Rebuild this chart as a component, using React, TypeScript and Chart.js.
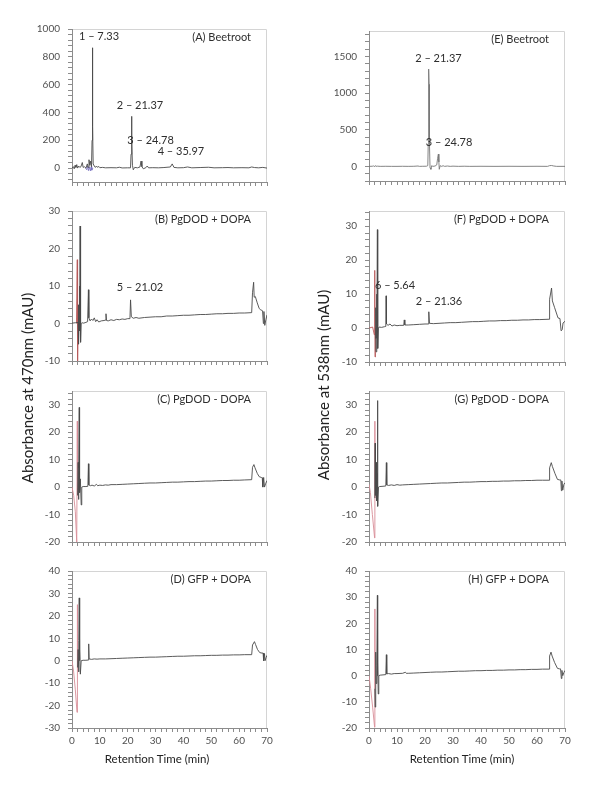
import React, { useEffect, useRef } from "react";
import { Chart, registerables } from "chart.js";

Chart.register(...registerables);

const FONT = "Lato, 'Open Sans', sans-serif";
const AXIS_COLOR = "#8c8c8c";
const BOX_COLOR = "#d4d4d4";
const TICK_TEXT = "#505050";
const LINE_DARK = "#4a4a4a";

type Pt = [number, number];

// ---------- tick labels ----------
const timeTicks = [0, 10, 20, 30, 40, 50, 60, 70];
const yTicksA = [0, 200, 400, 600, 800, 1000];
const yTicksB = [-10, 0, 10, 20, 30];
const yTicksC = [-20, -10, 0, 10, 20, 30];
const yTicksD = [-30, -20, -10, 0, 10, 20, 30, 40];
const yTicksE = [0, 500, 1000, 1500];
const yTicksF = [-10, 0, 10, 20, 30];
const yTicksG = [-20, -10, 0, 10, 20, 30];
const yTicksH = [-20, -10, 0, 10, 20, 30, 40];

// ---------- traces: [retention time (min), absorbance (mAU)] ----------
// (A) Beetroot, 470 nm
const traceA: Pt[] = [
  [0, 0], [0.5, 10], [0.8, -5], [1.1, 20], [1.4, 5], [1.7, 25], [2.0, 0], [2.4, 15], [2.8, 5],
  [3.2, 10], [3.7, 40], [4.0, 5], [4.5, 10], [5.0, 0], [5.5, 30], [5.8, 5], [6.1, 60], [6.4, 20],
  [6.7, 50], [7.0, 10], [7.2, 200], [7.33, 865], [7.45, 300], [7.6, 30], [8.0, 15], [8.4, 5],
  [8.8, 15], [9.2, 5], [9.6, 12], [10.0, 3], [11, 5], [12, 2], [14, 3], [16, 2], [17, 6], [18, 1],
  [20, 2], [21.0, 2], [21.2, 100], [21.37, 372], [21.5, 200], [21.7, 20], [22.0, -12], [22.5, 5],
  [23.5, 2], [24.4, 8], [24.78, 50], [25.1, 10], [25.6, -5], [26.5, 3], [27.0, 15], [27.5, 2],
  [29, 3], [31, 2], [33, 4], [35.3, 8], [35.97, 30], [36.6, 5], [38, 2], [40, 3], [41.5, 8],
  [43, 2], [46, 4], [49, 6], [51, 2], [54, 3], [56, 4], [58, 2], [61, 3], [63.5, 2], [64.5, 8],
  [65.5, 4], [67, 2], [68.5, 5], [70, 0],
];
const overlayA: Pt[] = [
  [4.8, 0], [5.3, -12], [5.6, 15], [5.9, -18], [6.3, 8], [6.6, -20], [6.9, 10], [7.1, -15], [7.5, 0],
];

// (B) PgDOD + DOPA, 470 nm
const traceB: Pt[] = [
  [0, 0.1], [1.2, 0.2], [2.2, 0.3], [2.3, 5], [2.4, -5.5], [2.55, 0], [2.7, 10], [2.8, -2], [2.9, 26],
  [3.0, 2], [3.15, -5], [3.3, 0], [3.6, 0.2], [4.2, 0.1], [5.0, 0.3], [5.6, 0.5], [5.9, 9], [6.05, 1.5],
  [6.5, 0.7], [7.0, 1.2], [7.5, 0.8], [8.0, 1.5], [8.5, 0.5], [9.0, 1.0], [9.6, 0.4], [10.5, 0.7],
  [11.5, 0.8], [12.0, 0.9], [12.2, 2.6], [12.4, 0.8], [13, 0.7], [14, 1.0], [15, 0.8], [16, 1.1],
  [17, 1.0], [18, 1.2], [19, 1.1], [20, 1.3], [20.8, 1.3], [21.02, 6.3], [21.3, 1.8], [22, 1.4],
  [23, 1.6], [24, 1.4], [26, 1.6], [28, 1.7], [30, 1.8], [32, 1.8], [34, 2.0], [36, 2.0], [38, 2.1],
  [40, 2.2], [42, 2.2], [44, 2.3], [46, 2.4], [48, 2.4], [50, 2.5], [52, 2.6], [54, 2.6], [56, 2.7],
  [58, 2.7], [60, 2.8], [62, 2.8], [64.5, 2.9], [64.8, 8.2], [65.2, 11], [65.4, 7], [65.8, 7.2],
  [66.5, 5.5], [67.2, 4], [67.8, 3.6], [68.2, 3.5], [68.4, 3.4], [68.7, 0], [68.9, 3.2], [69.2, -0.5],
  [69.6, 1], [70, 2.3],
];
const overlayB: Pt[] = [[1.6, 0], [1.9, 17], [2.0, -10], [2.2, 0.3]];

// (C) PgDOD - DOPA, 470 nm
const traceC: Pt[] = [
  [2.0, -3], [2.2, 9], [2.3, -4.5], [2.5, 7], [2.6, 29], [2.65, 0], [2.7, 14], [2.8, -2], [3.0, 3],
  [3.3, -6.5], [3.5, 0], [4, 0.2], [5, 0.2], [5.7, 0.3], [5.9, 8.5], [6.05, 0.8], [6.6, 0.5],
  [7.2, 0.7], [8, 0.4], [8.8, 1.0], [9.2, 0.5], [10, 0.7], [11, 0.6], [12, 0.8], [13, 0.7], [14, 0.9],
  [16, 0.9], [18, 1.0], [20, 1.1], [22, 1.2], [24, 1.3], [26, 1.4], [28, 1.5], [30, 1.5], [32, 1.6],
  [34, 1.7], [36, 1.8], [38, 1.8], [40, 1.9], [42, 2.0], [44, 2.0], [46, 2.1], [48, 2.2], [50, 2.2],
  [52, 2.3], [54, 2.4], [56, 2.4], [58, 2.5], [60, 2.5], [62, 2.6], [64.5, 2.7], [64.8, 7.2],
  [65.3, 8.2], [65.7, 7], [66.5, 5], [67.2, 3.8], [68, 3.5], [68.3, 3.4], [68.5, 0], [68.8, 3.5],
  [69.1, 0], [69.5, 1.2], [70, 2.4],
];
const overlayC: Pt[] = [[0, 0], [0.6, -3], [1.2, -9], [1.7, -20], [1.9, 24], [2.0, -3]];

// (D) GFP + DOPA, 470 nm
const traceD: Pt[] = [
  [2.0, -3], [2.2, 5], [2.35, -5], [2.5, 9], [2.6, 28], [2.7, 0], [2.8, 5], [3.0, -6], [3.3, 0],
  [4, 0.2], [5, 0.2], [5.8, 0.3], [6.0, 7.5], [6.15, 0.8], [7, 0.6], [8, 0.8], [9, 0.7], [10, 0.8],
  [12, 0.8], [14, 0.9], [16, 1.0], [18, 1.1], [20, 1.2], [22, 1.3], [24, 1.4], [26, 1.5], [28, 1.6],
  [30, 1.6], [32, 1.7], [34, 1.8], [36, 1.9], [38, 2.0], [40, 2.0], [42, 2.1], [44, 2.2], [46, 2.2],
  [48, 2.3], [50, 2.4], [52, 2.4], [54, 2.5], [56, 2.5], [58, 2.6], [60, 2.6], [62, 2.7], [64.5, 2.7],
  [64.8, 7], [65.5, 8.5], [65.9, 7.2], [66.6, 5], [67.4, 3.6], [68.2, 3.4], [68.6, 3.4], [68.8, 0],
  [69.1, 3.2], [69.3, 0], [69.7, 1.5], [70, 2.4],
];
const overlayD: Pt[] = [[0, 0], [0.6, -5], [1.2, -13], [1.8, -23], [1.9, 25], [2.0, -3]];

// (E) Beetroot, 538 nm
const traceE: Pt[] = [
  [0, 0], [1.3, 2], [1.6, 8], [1.9, -5], [2.2, 10], [2.5, 0], [3, 3], [4, 0], [6, 1], [8, 0], [10, 0],
  [12, 1], [14, 0], [16, 1], [17.5, 5], [18, 0], [19, 1], [20.5, 2], [21.0, 10], [21.15, 300],
  [21.25, 1150], [21.37, 1330], [21.47, 1120], [21.6, 300], [21.8, -20], [22.1, -40], [22.4, 10],
  [22.8, 0], [23.6, 5], [24.2, 20], [24.5, 110], [24.78, 168], [24.95, 60], [25.1, -40], [25.4, 10],
  [25.8, 0], [26.5, 8], [27, 0], [28, 5], [29, 0], [30, 3], [32, 0], [34, 2], [36, 0], [40, 1],
  [45, 0], [50, 1], [55, 0], [60, 1], [63.8, 0], [64.5, 10], [65.2, 12], [66, 5], [67, 0], [70, 0],
];

// (F) PgDOD + DOPA, 538 nm
const traceF: Pt[] = [
  [2.2, -3], [2.4, 6], [2.5, -7], [2.7, 10], [2.85, -3], [3.0, 29], [3.05, 0], [3.1, 14], [3.2, -6],
  [3.35, 0], [3.6, 0.3], [4.5, 0.2], [5.5, 0.4], [6.0, 0.5], [6.1, 9.5], [6.25, 1.2], [6.8, 0.8],
  [7.5, 1.2], [8.2, 0.6], [9, 0.9], [10, 0.7], [11, 0.8], [12.4, 0.8], [12.6, 2.4], [12.8, 0.9],
  [14, 0.9], [16, 1.0], [18, 1.1], [20, 1.2], [21.2, 1.2], [21.36, 4.8], [21.6, 1.4], [23, 1.3],
  [25, 1.4], [27, 1.5], [29, 1.6], [31, 1.6], [33, 1.7], [35, 1.8], [37, 1.9], [39, 1.9], [41, 2.0],
  [43, 2.1], [45, 2.1], [47, 2.2], [49, 2.2], [51, 2.3], [53, 2.3], [55, 2.4], [57, 2.4], [59, 2.5],
  [61, 2.5], [64.3, 2.6], [64.5, 8.5], [65.2, 11.8], [65.5, 8], [66.3, 6], [67.5, 3], [68.2, 2.8],
  [68.6, -0.8], [69.0, -0.5], [69.3, 1.5], [70, 2],
];
const overlayF: Pt[] = [[0, 0], [1.3, 0.3], [1.9, -2], [2.05, 17], [2.15, -8.5], [2.3, 0]];

// (G) PgDOD - DOPA, 538 nm
const traceG: Pt[] = [
  [2.1, -4], [2.2, 16], [2.3, -3], [2.5, 9], [2.7, -5], [2.9, 5], [3.0, 31.5], [3.05, 0], [3.1, 9],
  [3.2, -7], [3.4, 0], [3.8, 0.2], [5, 0.3], [6.0, 0.4], [6.2, 8.9], [6.35, 0.8], [7, 0.6], [8, 0.8],
  [9, 0.6], [10, 0.9], [11, 0.7], [12, 0.8], [14, 0.9], [16, 1.0], [18, 1.1], [20, 1.2], [22, 1.3],
  [24, 1.4], [26, 1.5], [28, 1.5], [30, 1.6], [32, 1.7], [34, 1.8], [36, 1.8], [38, 1.9], [40, 2.0],
  [42, 2.0], [44, 2.1], [46, 2.1], [48, 2.2], [50, 2.2], [52, 2.3], [54, 2.3], [56, 2.4], [58, 2.4],
  [60, 2.5], [62, 2.5], [64.3, 2.5], [64.5, 7], [65.1, 8.9], [65.5, 7.5], [66.4, 5], [67.3, 2.8],
  [68.1, 2.6], [68.5, 2.6], [68.7, -1.3], [68.9, 2.2], [69.2, -1.1], [69.6, 1.0], [70, 1.6],
];
const overlayG: Pt[] = [[0, 1], [0.5, -2], [1.2, -10], [2.0, -18.5], [2.1, 24], [2.15, -4]];

// (H) GFP + DOPA, 538 nm
const traceH: Pt[] = [
  [2.1, -5], [2.2, -12], [2.4, 9], [2.55, -3], [2.8, 4], [3.0, 30.7], [3.05, 0], [3.15, 5], [3.3, -7],
  [3.5, 0], [4, 0.2], [5, 0.3], [6.0, 0.4], [6.2, 8], [6.35, 0.7], [7, 0.8], [8, 0.6], [9, 0.8],
  [10, 0.8], [12, 0.9], [13, 1.3], [13.3, 0.9], [14, 0.9], [16, 1.0], [18, 1.1], [20, 1.2], [22, 1.3],
  [24, 1.4], [26, 1.4], [28, 1.5], [30, 1.6], [32, 1.7], [34, 1.7], [36, 1.8], [38, 1.9], [40, 1.9],
  [42, 2.0], [44, 2.0], [46, 2.1], [48, 2.1], [50, 2.2], [52, 2.2], [54, 2.3], [56, 2.3], [58, 2.4],
  [60, 2.4], [62, 2.5], [64.3, 2.5], [64.5, 7.5], [65.0, 9], [65.4, 7.5], [66.3, 5], [67.3, 2.8],
  [68.0, 2.6], [68.4, 2.6], [68.7, -1.1], [68.9, 2], [69.2, 0], [69.6, 1.2], [70, 2],
];
const overlayH: Pt[] = [[0, 0], [0.6, -5], [1.3, -12], [2.0, -19.7], [2.1, 25.5], [2.15, -5]];

// ---------- panel layout ----------
type Note = { x: number; y: number; text: string };
interface PanelCfg {
  title: string;
  trace: Pt[];
  lineColor: string;
  overlay?: Pt[];
  overlayColor?: string;
  yMin: number;
  yMax: number;
  yMajor: number[];
  yMinor: number;
  notes: Note[];
  left: number;
  right: number;
  top: number;
  bottom: number;
  showX: boolean;
}

const L = { left: 72, right: 267 };
const R = { left: 369, right: 565 };
const PINK = "#d88c96";
const RED = "#b85a5a";

const panels: PanelCfg[] = [
  {
    title: "(A) Beetroot", trace: traceA, lineColor: LINE_DARK, overlay: overlayA, overlayColor: "#7a74c0",
    yMin: -100, yMax: 1000, yMajor: yTicksA, yMinor: 40,
    notes: [
      { x: 9.7, y: 945, text: "1 – 7.33" },
      { x: 24.4, y: 449, text: "2 – 21.37" },
      { x: 28.2, y: 197, text: "3 – 24.78" },
      { x: 39.1, y: 122, text: "4 – 35.97" },
    ],
    ...L, top: 25, bottom: 188, showX: false,
  },
  {
    title: "(B) PgDOD + DOPA", trace: traceB, lineColor: LINE_DARK, overlay: overlayB, overlayColor: RED,
    yMin: -10, yMax: 30, yMajor: yTicksB, yMinor: 2,
    notes: [{ x: 24.4, y: 9.5, text: "5 – 21.02" }],
    ...L, top: 207, bottom: 367, showX: false,
  },
  {
    title: "(C) PgDOD - DOPA", trace: traceC, lineColor: LINE_DARK, overlay: overlayC, overlayColor: PINK,
    yMin: -20, yMax: 35, yMajor: yTicksC, yMinor: 2, notes: [],
    ...L, top: 387, bottom: 548, showX: false,
  },
  {
    title: "(D) GFP + DOPA", trace: traceD, lineColor: LINE_DARK, overlay: overlayD, overlayColor: PINK,
    yMin: -30, yMax: 40, yMajor: yTicksD, yMinor: 2, notes: [],
    ...L, top: 567, bottom: 728, showX: true,
  },
  {
    title: "(E) Beetroot", trace: traceE, lineColor: "#777777",
    yMin: -200, yMax: 1850, yMajor: yTicksE, yMinor: 100,
    notes: [
      { x: 24.8, y: 1473, text: "2 – 21.37" },
      { x: 28.6, y: 323, text: "3 – 24.78" },
    ],
    ...R, top: 27, bottom: 187, showX: false,
  },
  {
    title: "(F) PgDOD + DOPA", trace: traceF, lineColor: LINE_DARK, overlay: overlayF, overlayColor: RED,
    yMin: -10, yMax: 34.5, yMajor: yTicksF, yMinor: 2,
    notes: [
      { x: 9.3, y: 12.5, text: "6 – 5.64" },
      { x: 25.0, y: 7.8, text: "2 – 21.36" },
    ],
    ...R, top: 207, bottom: 368, showX: false,
  },
  {
    title: "(G) PgDOD - DOPA", trace: traceG, lineColor: LINE_DARK, overlay: overlayG, overlayColor: PINK,
    yMin: -20, yMax: 35, yMajor: yTicksG, yMinor: 2, notes: [],
    ...R, top: 387, bottom: 548, showX: false,
  },
  {
    title: "(H) GFP + DOPA", trace: traceH, lineColor: LINE_DARK, overlay: overlayH, overlayColor: PINK,
    yMin: -20, yMax: 40, yMajor: yTicksH, yMinor: 2, notes: [],
    ...R, top: 567, bottom: 728, showX: true,
  },
];

const PAD_TOP = 10;
const PAD_RIGHT = 12;
const AXIS_W = 50;

function makeTicks(min: number, max: number, step: number) {
  const out: { value: number }[] = [];
  for (let v = Math.ceil(min / step - 1e-9) * step; v <= max + 1e-9; v += step) {
    out.push({ value: Math.round(v * 1000) / 1000 });
  }
  return out;
}

function Panel({ cfg }: { cfg: PanelCfg }) {
  const ref = useRef<HTMLCanvasElement>(null);
  const xh = cfg.showX ? 26 : 8;
  const width = AXIS_W + (cfg.right - cfg.left) + PAD_RIGHT;
  const height = PAD_TOP + (cfg.bottom - cfg.top) + xh;

  useEffect(() => {
    const canvas = ref.current;
    if (!canvas) return;
    const datasets: any[] = [
      {
        data: cfg.trace.map(([x, y]) => ({ x, y })),
        borderColor: cfg.lineColor,
        borderWidth: 0.9,
        pointRadius: 0,
        fill: false,
      },
    ];
    if (cfg.overlay) {
      datasets.push({
        data: cfg.overlay.map(([x, y]) => ({ x, y })),
        borderColor: cfg.overlayColor,
        borderWidth: 0.9,
        pointRadius: 0,
        fill: false,
      });
    }
    const panelPlugin = {
      id: "panelDecor",
      beforeDraw(chart: any) {
        const { ctx, chartArea } = chart;
        ctx.save();
        ctx.strokeStyle = BOX_COLOR;
        ctx.lineWidth = 1;
        ctx.beginPath();
        ctx.moveTo(Math.round(chartArea.left) + 0.5, Math.round(chartArea.top) + 0.5);
        ctx.lineTo(Math.round(chartArea.right) - 0.5, Math.round(chartArea.top) + 0.5);
        ctx.lineTo(Math.round(chartArea.right) - 0.5, Math.round(chartArea.bottom));
        ctx.stroke();
        ctx.restore();
      },
      afterDatasetsDraw(chart: any) {
        const { ctx, chartArea, scales } = chart;
        ctx.save();
        ctx.fillStyle = "#2e2e2e";
        ctx.font = `11px ${FONT}`;
        ctx.textBaseline = "middle";
        ctx.textAlign = "center";
        cfg.notes.forEach((n) => {
          ctx.fillText(n.text, scales.x.getPixelForValue(n.x), scales.y.getPixelForValue(n.y));
        });
        ctx.textAlign = "right";
        ctx.fillText(cfg.title, chartArea.right - 16, chartArea.top + 8);
        ctx.restore();
      },
    };
    const chart = new Chart(canvas, {
      type: "line",
      data: { datasets },
      options: {
        responsive: false,
        animation: false,
        devicePixelRatio: 1,
        events: [],
        layout: { padding: { top: PAD_TOP, left: 0, right: PAD_RIGHT, bottom: 0 } },
        plugins: { legend: { display: false }, tooltip: { enabled: false }, title: { display: false } },
        elements: { point: { radius: 0 }, line: { tension: 0 } },
        scales: {
          x: {
            type: "linear",
            min: 0,
            max: 70,
            afterBuildTicks: (s: any) => {
              s.ticks = makeTicks(0, 70, 2);
            },
            afterFit: (s: any) => {
              s.height = xh;
            },
            ticks: {
              autoSkip: false,
              maxRotation: 0,
              minRotation: 0,
              padding: 3,
              color: TICK_TEXT,
              font: { size: 10, family: FONT },
              callback: (v: any) => (cfg.showX && timeTicks.includes(Number(v)) ? String(v) : ""),
            },
            grid: { drawOnChartArea: false, drawTicks: true, tickLength: 4, color: AXIS_COLOR },
            border: { display: true, color: AXIS_COLOR },
          },
          y: {
            type: "linear",
            min: cfg.yMin,
            max: cfg.yMax,
            afterBuildTicks: (s: any) => {
              s.ticks = makeTicks(cfg.yMin, cfg.yMax, cfg.yMinor);
            },
            afterFit: (s: any) => {
              s.width = AXIS_W;
            },
            ticks: {
              autoSkip: false,
              padding: 8,
              color: TICK_TEXT,
              font: { size: 10, family: FONT },
              callback: (v: any) =>
                cfg.yMajor.some((m) => Math.abs(m - Number(v)) < 1e-6) ? String(v) : "",
            },
            grid: { drawOnChartArea: false, drawTicks: true, tickLength: 4, color: AXIS_COLOR },
            border: { display: true, color: AXIS_COLOR },
          },
        },
      } as any,
      plugins: [panelPlugin],
    });
    return () => chart.destroy();
  }, [cfg]);

  return (
    <canvas
      ref={ref}
      width={width}
      height={height}
      style={{
        position: "absolute",
        left: cfg.left - AXIS_W,
        top: cfg.top - PAD_TOP,
        width,
        height,
      }}
    />
  );
}

const textStyle: React.CSSProperties = {
  position: "absolute",
  fontFamily: FONT,
  color: "#222",
  whiteSpace: "nowrap",
  textAlign: "center",
};

export default function App() {
  return (
    <div
      style={{
        position: "absolute",
        left: 0,
        top: 0,
        width: 600,
        height: 800,
        background: "#fff",
        overflow: "hidden",
      }}
    >
      {panels.map((p, i) => (
        <Panel key={i} cfg={p} />
      ))}
      <div
        style={{
          ...textStyle,
          left: 27 - 150,
          top: 388 - 10,
          width: 300,
          height: 20,
          lineHeight: "20px",
          fontSize: 15,
          transform: "rotate(-90deg)",
        }}
      >
        Absorbance at 470nm (mAU)
      </div>
      <div
        style={{
          ...textStyle,
          left: 323 - 150,
          top: 385 - 10,
          width: 300,
          height: 20,
          lineHeight: "20px",
          fontSize: 15,
          transform: "rotate(-90deg)",
        }}
      >
        Absorbance at 538nm (mAU)
      </div>
      <div
        style={{ ...textStyle, left: 157 - 100, top: 759 - 8, width: 200, height: 16, lineHeight: "16px", fontSize: 11.5 }}
      >
        Retention Time (min)
      </div>
      <div
        style={{ ...textStyle, left: 462 - 100, top: 759 - 8, width: 200, height: 16, lineHeight: "16px", fontSize: 11.5 }}
      >
        Retention Time (min)
      </div>
    </div>
  );
}
